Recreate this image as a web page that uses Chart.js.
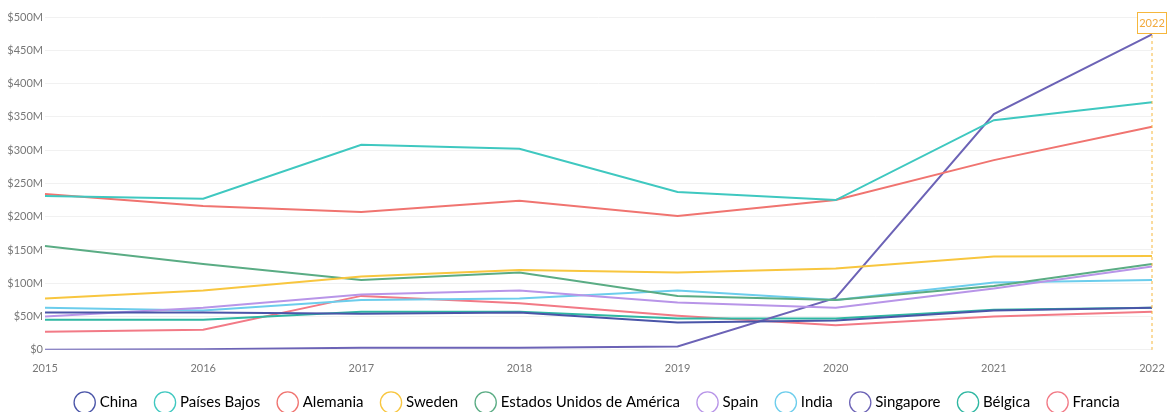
<!DOCTYPE html>
<html>
<head>
<meta charset="utf-8">
<script src="https://cdn.jsdelivr.net/npm/chart.js@4"></script>
<style>
  html, body { margin: 0; padding: 0; background: #fff; }
  #wrap { width: 1169px; height: 412px; position: relative; }
</style>
</head>
<body>
<div id="wrap"><canvas id="grafico"></canvas></div>
<script>
// Datos (millones de USD)
const anos = ['2015', '2016', '2017', '2018', '2019', '2020', '2021', '2022'];
const paises = ['China', 'Países Bajos', 'Alemania', 'Sweden', 'Estados Unidos de América', 'Spain', 'India', 'Singapore', 'Bélgica', 'Francia'];
const china = [56, 56, 54, 56, 41, 44, 59, 63];
const paisesBajos = [231, 227, 308, 302, 237, 225, 345, 372];
const alemania = [234, 216, 207, 224, 201, 225, 285, 335];
const sweden = [77, 89, 110, 120, 116, 122, 140, 141];
const eeuu = [156, 129, 105, 116, 81, 75, 96, 129];
const spain = [50, 63, 83, 89, 71, 63, 92, 125];
const india = [63, 59, 75, 77, 89, 75, 101, 105];
const singapore = [0, 1, 3, 3, 5, 78, 354, 474];
const belgica = [45, 45, 57, 57, 47, 47, 60, 63];
const francia = [27, 30, 81, 70, 51, 37, 50, 57];
const yTicks = [0, 50, 100, 150, 200, 250, 300, 350, 400, 450, 500];
const anoMarcado = '2022';

const series = [china, paisesBajos, alemania, sweden, eeuu, spain, india, singapore, belgica, francia];
const cores = ['#4a55a8', '#3fc8c0', '#f07470', '#f8c63f', '#5aac84', '#b895e8', '#6ccdec', '#6c63b6', '#2fb7a2', '#f27a86'];

// Línea vertical punteada con etiqueta del año
const marcador = {
  id: 'marcador',
  afterDatasetsDraw(chart) {
    const ctx = chart.ctx;
    const x = chart.scales.x.getPixelForValue(anos.indexOf(anoMarcado));
    const area = chart.chartArea;
    ctx.save();
    ctx.strokeStyle = '#f6b73c';
    ctx.lineWidth = 1;
    ctx.setLineDash([3, 3]);
    ctx.beginPath();
    ctx.moveTo(x, 35);
    ctx.lineTo(x, area.bottom);
    ctx.stroke();
    ctx.setLineDash([]);
    ctx.fillStyle = '#fff';
    ctx.fillRect(x - 15, 12, 30, 22);
    ctx.strokeRect(x - 15 + 0.5, 12.5, 29, 21);
    ctx.fillStyle = '#f2a93b';
    ctx.font = '11px Lato';
    ctx.textAlign = 'center';
    ctx.textBaseline = 'middle';
    ctx.fillText(anoMarcado, x, 23.5);
    ctx.restore();
  }
};

new Chart(document.getElementById('grafico'), {
  type: 'line',
  data: {
    labels: anos,
    datasets: paises.map((p, i) => ({
      label: p,
      data: series[i],
      borderColor: cores[i],
      backgroundColor: '#fff',
      borderWidth: 2,
      pointRadius: 0,
      tension: 0,
      fill: false
    }))
  },
  options: {
    responsive: true,
    maintainAspectRatio: false,
    animation: false,
    layout: { padding: { top: 17, right: 17, left: 0, bottom: -8 } },
    plugins: {
      tooltip: { enabled: false },
      legend: {
        position: 'bottom',
        fullSize: false,
        labels: {
          usePointStyle: true,
          pointStyle: 'circle',
          boxWidth: 17,
          boxHeight: 17,
          padding: 20,
          color: '#666',
          font: { family: 'Lato', size: 15 },
          generateLabels(chart) {
            return chart.data.datasets.map((d, i) => ({
              text: d.label,
              fillStyle: '#fff',
              strokeStyle: d.borderColor,
              lineWidth: 1.3,
              pointStyle: 'circle',
              datasetIndex: i
            }));
          }
        }
      }
    },
    scales: {
      x: {
        offset: false,
        afterFit(scale) { scale.height -= 4; },
        grid: { display: false },
        border: { display: false },
        ticks: { color: '#777', font: { family: 'Lato', size: 11 }, padding: 4, maxRotation: 0 }
      },
      y: {
        min: 0,
        max: 500,
        afterFit(scale) { scale.width = 45; },
        afterBuildTicks(scale) { scale.ticks = yTicks.map(v => ({ value: v })); },
        grid: { color: '#f1f1f1', drawTicks: false },
        border: { display: false },
        ticks: {
          color: '#777',
          padding: 2,
          font: { family: 'Lato', size: 11 },
          callback: v => '$' + v + (v === 0 ? '' : 'M')
        }
      }
    }
  },
  plugins: [marcador]
});
</script>
</body>
</html>
